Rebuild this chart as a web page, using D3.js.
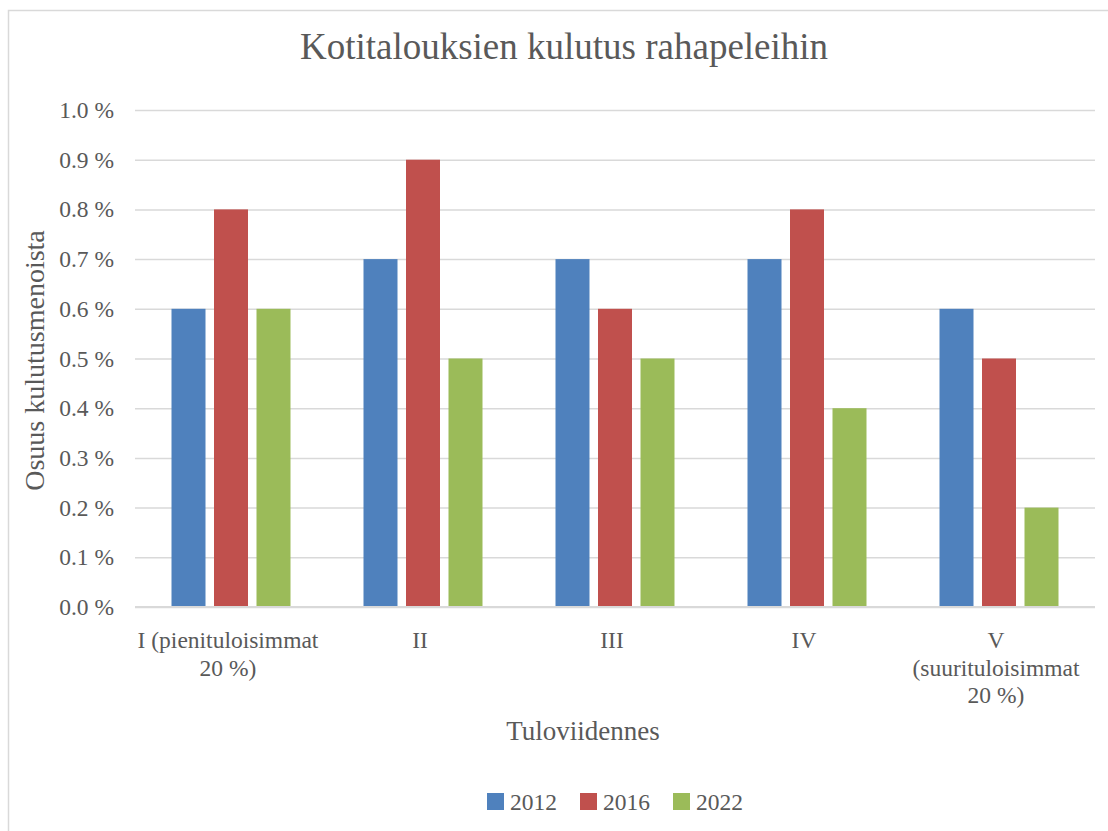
<!DOCTYPE html>
<html>
<head>
<meta charset="utf-8">
<script src="https://cdn.jsdelivr.net/npm/d3@7"></script>
<style>
  html, body { margin: 0; padding: 0; background: #fff; }
  svg { display: block; }
  text { font-family: "Liberation Serif", "Times New Roman", serif; fill: #595959; }
</style>
</head>
<body>
<svg id="chart" width="1108" height="831"></svg>
<script>
const categories = [
  ["I (pienituloisimmat", "20 %)"],
  ["II"],
  ["III"],
  ["IV"],
  ["V", "(suurituloisimmat", "20 %)"]
];
const categoryKeys = ["I", "II", "III", "IV", "V"];
const seriesNames = ["2012", "2016", "2022"];
const values2012 = [0.6, 0.7, 0.7, 0.7, 0.6];
const values2016 = [0.8, 0.9, 0.6, 0.8, 0.5];
const values2022 = [0.6, 0.5, 0.5, 0.4, 0.2];
const yTicks = [0, 0.1, 0.2, 0.3, 0.4, 0.5, 0.6, 0.7, 0.8, 0.9, 1.0];
const colors = ["#4f81bd", "#c0504d", "#9bbb59"];

const title = "Kotitalouksien kulutus rahapeleihin";
const xTitle = "Tuloviidennes";
const yTitle = "Osuus kulutusmenoista";

const svg = d3.select("#chart");
const W = 1108, H = 831;
const plot = { left: 135, right: 1095, top: 110, bottom: 607 };

// chart frame
svg.append("rect")
  .attr("x", 8.5).attr("y", 10.5)
  .attr("width", W + 20).attr("height", H + 20)
  .attr("fill", "#fff").attr("stroke", "#d9d9d9").attr("stroke-width", 1.5);

const x = d3.scaleBand().domain(categoryKeys).range([plot.left, plot.right]).padding(0);
const groupW = 119;
const xs = d3.scaleBand().domain(seriesNames).range([0, groupW]).paddingInner(0.2).paddingOuter(0);
const y = d3.scaleLinear().domain([0, 1.0]).range([plot.bottom, plot.top]);

// gridlines
const grid = d3.axisLeft(y).tickValues(yTicks).tickSize(-(plot.right - plot.left)).tickFormat("");
const gg = svg.append("g").attr("transform", `translate(${plot.left},0)`).call(grid);
gg.select(".domain").remove();
gg.selectAll("line").attr("stroke", "#d9d9d9").attr("stroke-width", 1.5);

// y tick labels
const yAxis = d3.axisLeft(y).tickValues(yTicks).tickSize(0).tickPadding(21)
  .tickFormat(d => d3.format(".1f")(d) + " %");
const ya = svg.append("g").attr("transform", `translate(${plot.left},0)`).call(yAxis);
ya.select(".domain").remove();
ya.selectAll("text").attr("font-size", 23.5).attr("font-family", "Liberation Serif").attr("fill", "#595959");

// bars
const allSeries = [values2012, values2016, values2022];
const rows = [];
categoryKeys.forEach((c, i) => {
  seriesNames.forEach((s, j) => rows.push({ c, s, v: allSeries[j][i], j }));
});
const off = (x.bandwidth() - groupW) / 2;
svg.append("g").selectAll("rect").data(rows).join("rect")
  .attr("x", d => x(d.c) + off + xs(d.s))
  .attr("y", d => y(d.v))
  .attr("width", xs.bandwidth())
  .attr("height", d => y(0) - y(d.v))
  .attr("fill", d => colors[d.j]);

// x axis line
svg.append("line")
  .attr("x1", plot.left).attr("x2", plot.right)
  .attr("y1", y(0)).attr("y2", y(0))
  .attr("stroke", "#d9d9d9").attr("stroke-width", 2);

// category labels
const xl = svg.append("g");
categoryKeys.forEach((c, i) => {
  const cx = x(c) + x.bandwidth() / 2 - 3;
  const t = xl.append("text")
    .attr("x", cx)
    .attr("y", 648)
    .attr("text-anchor", "middle")
    .attr("font-size", 23.5);
  categories[i].forEach((line, k) => {
    t.append("tspan").attr("x", cx).attr("dy", k === 0 ? 0 : 27.5).text(line);
  });
});

// title
svg.append("text").attr("x", 564).attr("y", 59).attr("text-anchor", "middle")
  .attr("font-size", 37).text(title);

// axis titles
svg.append("text").attr("x", 583).attr("y", 740).attr("text-anchor", "middle")
  .attr("font-size", 27).text(xTitle);
svg.append("text").attr("transform", `translate(44,${(plot.top + plot.bottom) / 2 + 2}) rotate(-90)`)
  .attr("text-anchor", "middle").attr("font-size", 28).text(yTitle);

// legend
const legendX = [487, 580, 673];
const lg = svg.append("g");
seriesNames.forEach((s, j) => {
  lg.append("rect").attr("x", legendX[j]).attr("y", 793).attr("width", 17).attr("height", 17).attr("fill", colors[j]);
  lg.append("text").attr("x", legendX[j] + 23).attr("y", 810).attr("font-size", 23.5).text(s);
});
</script>
</body>
</html>
